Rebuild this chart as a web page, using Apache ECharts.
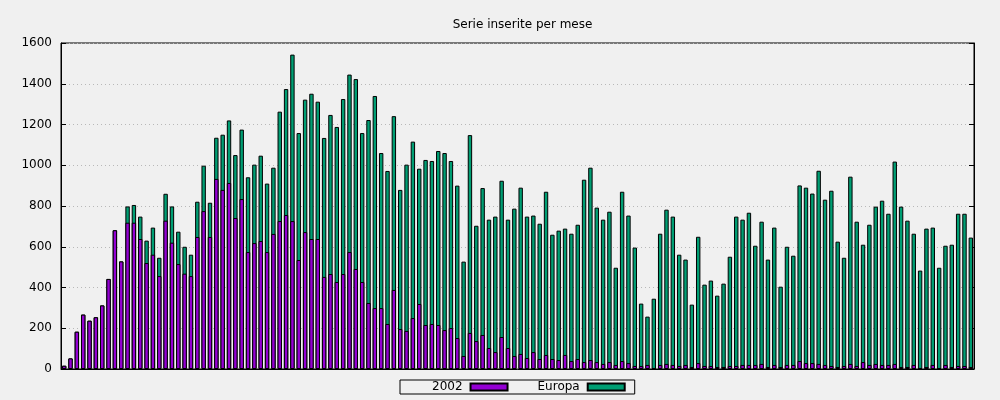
<!DOCTYPE html>
<html>
<head>
<meta charset="utf-8">
<script src="https://cdn.jsdelivr.net/npm/echarts@6/dist/echarts.min.js"></script>
<style>
html,body{margin:0;padding:0;background:#f0f0f0;}
#chart{width:1000px;height:400px;}
</style>
</head>
<body>
<div id="chart"></div>
<script>
const titleText = 'Serie inserite per mese';
const seriesNames = ['2002', 'Europa'];
const yTicks = [0, 200, 400, 600, 800, 1000, 1200, 1400, 1600];
// one category per month (144 months)
const categories = Array.from({length: 144}, (_, i) => String(i + 1));

const values2002 = [
  16, 52, 183, 267, 237, 254, 312, 442, 681, 528,
  718, 718, 638, 520, 561, 456, 728, 620, 515, 468,
  456, 648, 775, 648, 933, 879, 913, 741, 834, 574,
  618, 628, 574, 663, 726, 756, 726, 535, 672, 638,
  638, 452, 466, 427, 466, 574, 491, 427, 324, 299,
  299, 221, 388, 196, 187, 250, 319, 216, 221, 216,
  191, 201, 152, 64, 177, 137, 167, 103, 83, 157,
  103, 64, 74, 54, 83, 49, 69, 49, 44, 69,
  39, 49, 34, 44, 34, 25, 34, 20, 39, 29,
  15, 15, 20, 5, 20, 25, 20, 15, 20, 10,
  29, 15, 15, 10, 10, 15, 15, 20, 20, 20,
  25, 10, 20, 10, 20, 20, 39, 29, 29, 25,
  20, 15, 10, 15, 25, 15, 34, 20, 25, 20,
  20, 25, 10, 10, 20, 5, 10, 20, 5, 20,
  10, 15, 15, 10
];

const valuesEuropa = [
  16, 52, 183, 267, 237, 254, 312, 442, 681, 528,
  798, 805, 748, 630, 694, 546, 860, 798, 674, 600,
  561, 821, 998, 816, 1135, 1150, 1220, 1050, 1175, 941,
  1003, 1047, 910, 988, 1263, 1374, 1543, 1158, 1322, 1351,
  1312, 1134, 1247, 1188, 1325, 1445, 1423, 1158, 1222, 1340,
  1060, 972, 1241, 879, 1003, 1116, 983, 1026, 1021, 1070,
  1060, 1021, 900, 527, 1148, 703, 888, 733, 748, 924,
  733, 787, 890, 748, 753, 713, 870, 659, 679, 689,
  664, 708, 929, 988, 792, 733, 772, 497, 870, 753,
  596, 321, 257, 345, 664, 782, 748, 561, 537, 316,
  649, 414, 434, 360, 419, 551, 748, 733, 767, 605,
  723, 537, 694, 404, 600, 556, 901, 890, 861, 973,
  831, 875, 625, 546, 944, 723, 610, 708, 797, 826,
  762, 1018, 797, 728, 664, 483, 689, 694, 497, 605,
  610, 762, 762, 645
];

const colors = {'2002': '#9400d3', 'Europa': '#009e73'};
const font = 'DejaVu Sans';

const chart = echarts.init(document.getElementById('chart'), null, {renderer: 'canvas'});
chart.setOption({
  backgroundColor: '#f0f0f0',
  animation: false,
  textStyle: {fontFamily: font, color: '#000'},
  title: {
    text: titleText,
    left: 517.5,
    textAlign: 'center',
    top: 14,
    textStyle: {fontFamily: font, fontSize: 12, fontWeight: 'normal', color: '#000'}
  },
  legend: {
    data: seriesNames,
    left: 400,
    top: 380,
    align: 'right',
    icon: 'rect',
    itemWidth: 37,
    itemHeight: 7,
    itemGap: 29,
    padding: [1, 9, 1, 32],
    borderColor: '#000',
    borderWidth: 1,
    borderRadius: 0,
    textStyle: {fontFamily: font, fontSize: 12, color: '#000', padding: [0, 3, 0, 0]}
  },
  grid: {
    left: 61, right: 26, top: 43, bottom: 31,
    show: true, borderColor: '#000', borderWidth: 1,
    backgroundColor: 'transparent'
  },
  xAxis: {
    type: 'category',
    data: categories,
    axisLine: {show: true, lineStyle: {color: '#000', width: 1}},
    axisTick: {show: false},
    axisLabel: {show: false},
    splitLine: {show: false}
  },
  yAxis: [
    {
      type: 'value',
      min: yTicks[0], max: yTicks[yTicks.length - 1], interval: 200,
      axisLine: {show: true, lineStyle: {color: '#000', width: 1}},
      axisTick: {show: true, inside: true, length: 5, lineStyle: {color: '#000'}},
      axisLabel: {margin: 9, fontFamily: font, fontSize: 12, color: '#000', formatter: v => String(v)},
      splitLine: {show: true, lineStyle: {color: '#b8b8b8', type: [1, 3], width: 1}}
    },
    {
      type: 'value', position: 'right',
      min: yTicks[0], max: yTicks[yTicks.length - 1], interval: 200,
      axisLine: {show: true, lineStyle: {color: '#000', width: 1}},
      axisTick: {show: true, inside: true, length: 5, lineStyle: {color: '#000'}},
      axisLabel: {show: false},
      splitLine: {show: false}
    }
  ],
  series: [
    {
      name: 'Europa', type: 'bar', data: valuesEuropa,
      barWidth: 4.4, barGap: '-100%',
      itemStyle: {color: colors['Europa'], borderColor: '#000', borderWidth: 1},
      emphasis: {disabled: true}, z: 2
    },
    {
      name: '2002', type: 'bar', data: values2002,
      barWidth: 4.4, barGap: '-100%',
      itemStyle: {color: colors['2002'], borderColor: '#000', borderWidth: 1},
      emphasis: {disabled: true}, z: 3
    }
  ]
});
</script>
</body>
</html>
